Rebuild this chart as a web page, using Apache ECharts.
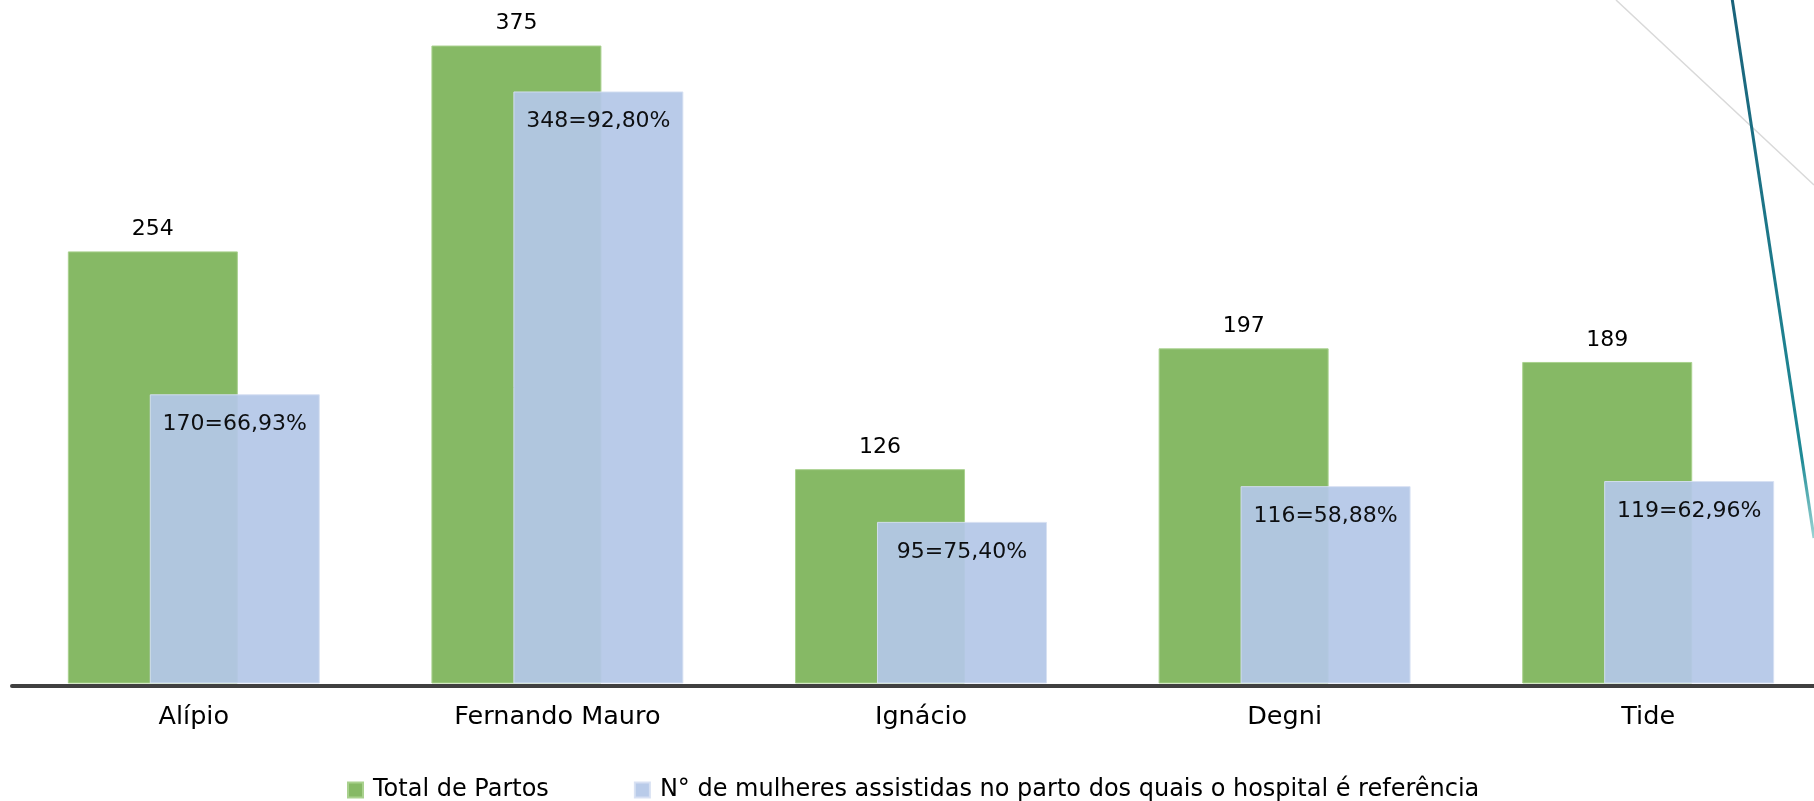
<!DOCTYPE html>
<html>
<head>
<meta charset="utf-8">
<script src="https://cdn.jsdelivr.net/npm/echarts@6/dist/echarts.min.js"></script>
<style>
html,body{margin:0;padding:0;background:#fff;}
#chart{width:1814px;height:801px;}
</style>
</head>
<body>
<div id="chart"></div>
<script>
var categories = ['Alípio', 'Fernando Mauro', 'Ignácio', 'Degni', 'Tide'];
var totalPartos = [254, 375, 126, 197, 189];
var mulheresRef = [170, 348, 95, 116, 119];
var percentLabels = ['66,93%', '92,80%', '75,40%', '58,88%', '62,96%'];
var seriesNames = ['Total de Partos', 'N° de mulheres assistidas no parto dos quais o hospital é referência'];

var FONT = 'DejaVu Sans';
var chart = echarts.init(document.getElementById('chart'), null, {renderer: 'canvas'});
chart.setOption({
  backgroundColor: '#ffffff',
  animation: false,
  grid: {left: 12, right: -16, top: 3, bottom: 117.5, containLabel: false, outerBoundsMode: 'none'},
  legend: {
    data: seriesNames,
    left: 347,
    top: 778,
    padding: 0,
    icon: 'rect',
    itemWidth: 15,
    itemHeight: 15,
    itemGap: 85,
    textStyle: {fontFamily: FONT, fontSize: 24, color: '#000', padding: [0, 0, 0, 5]}
  },
  xAxis: {
    type: 'category',
    data: categories,
    axisTick: {show: false},
    axisLine: {onZero: false, lineStyle: {color: '#404040', width: 4}},
    offset: 2,
    axisLabel: {fontFamily: FONT, fontSize: 25.5, color: '#000', margin: 19}
  },
  yAxis: {type: 'value', min: 0, max: 400, show: false, splitLine: {show: false}},
  series: [
    {
      name: seriesNames[0],
      type: 'bar',
      data: totalPartos,
      barWidth: 170,
      barGap: '-51.8%',
      itemStyle: {color: '#86b965', borderColor: '#a9d18e', borderWidth: 1},
      label: {show: true, position: 'top', distance: 11, fontFamily: FONT, fontSize: 22, color: '#000'}
    },
    {
      name: seriesNames[1],
      type: 'bar',
      data: mulheresRef,
      barWidth: 170,
      itemStyle: {color: '#b4c7e7', opacity: 0.93, borderColor: '#d6e0f2', borderWidth: 1},
      label: {
        show: true, position: 'insideTop', distance: 19, fontFamily: FONT, fontSize: 22, color: '#000',
        formatter: function (p) { return p.value + '=' + percentLabels[p.dataIndex]; }
      }
    }
  ],
  graphic: [
    {type: 'line', shape: {x1: 1616, y1: 0, x2: 1814, y2: 185}, style: {stroke: '#d9d9d9', lineWidth: 1.5}, z: 0},
    {type: 'line', shape: {x1: 1732, y1: -2, x2: 1814, y2: 538},
     style: {lineWidth: 3, stroke: new echarts.graphic.LinearGradient(0, 0, 0, 1, [
       {offset: 0, color: '#1a627a'}, {offset: 0.85, color: '#1f8a96'}, {offset: 1, color: 'rgba(40,160,160,0.45)'}
     ])}, z: 0}
  ]
});
</script>
</body>
</html>
